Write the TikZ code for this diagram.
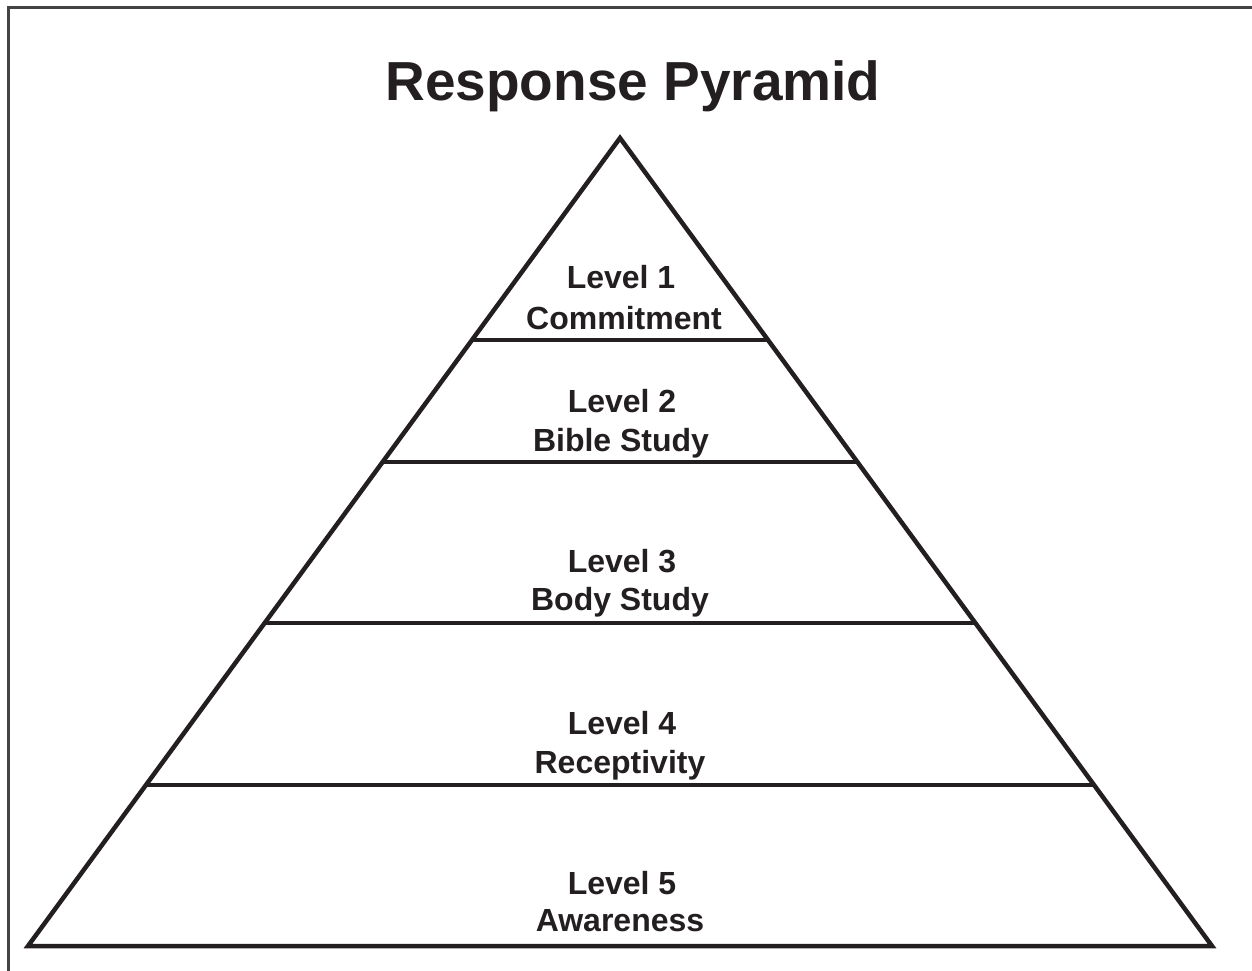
\documentclass[tikz,border=0pt]{standalone}
\usepackage{fontspec}
\setmainfont{Liberation Sans}
\usetikzlibrary{calc}
\definecolor{ink}{HTML}{231F20}
\definecolor{framegray}{HTML}{444444}
\begin{document}
\begin{tikzpicture}[x=1pt,y=-1pt,
  pyr/.style={draw=ink,line width=4.5pt,line join=miter},
  lvl/.style={anchor=base,text=ink,font=\fontsize{32}{38}\selectfont\bfseries,inner sep=0pt},
  ttl/.style={anchor=base,text=ink,font=\fontsize{55}{64}\selectfont\bfseries,inner sep=0pt}]
\useasboundingbox (0,0) rectangle (1252,971);
\fill[white] (0,0) rectangle (1252,971);
% frame (only top and left edges visible)
\draw[framegray,line width=3pt] (8,981) -- (8,8) -- (1262,8);
% title
\node[ttl] (title) at (633,101) {Response Pyramid};
% pyramid
\coordinate (apex) at (620,138);
\coordinate (bl) at (28,946);
\coordinate (br) at (1212,946);
\draw[pyr] (apex) -- (bl) -- (br) -- cycle;
\foreach \t in {0.25,0.401,0.6002,0.8007}{
  \draw[pyr] ($(apex)!\t!(bl)$) -- ($(apex)!\t!(br)$);
}
% labels
\node[lvl] (l1a) at (621,288) {Level 1};
\node[lvl] (l1b) at (624,329) {Commitment};
\node[lvl] (l2a) at (622,412) {Level 2};
\node[lvl] (l2b) at (621,451) {Bible Study};
\node[lvl] (l3a) at (622,572) {Level 3};
\node[lvl] (l3b) at (620,610) {Body Study};
\node[lvl] (l4a) at (622,734) {Level 4};
\node[lvl] (l4b) at (620,773) {Receptivity};
\node[lvl] (l5a) at (622,894) {Level 5};
\node[lvl] (l5b) at (620,931) {Awareness};
\end{tikzpicture}
\end{document}
